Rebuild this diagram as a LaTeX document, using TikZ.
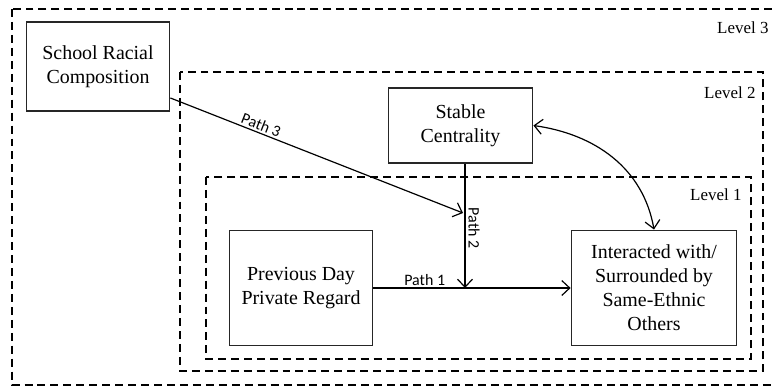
\documentclass[tikz,border=0pt]{standalone}
\usepackage{fontspec}
\setmainfont{Liberation Serif}
\newfontfamily\pathfont{Carlito}
\usetikzlibrary{positioning,arrows.meta}

\tikzset{
  box/.style={draw=black!85, line width=1.4pt, align=center, inner sep=2pt,
    font=\fontsize{20}{24}\selectfont},
  level/.style={draw=black, line width=1.4pt, dash pattern=on 8pt off 5pt},
  levellabel/.style={font=\fontsize{17}{20}\selectfont, anchor=east},
  pathlabel/.style={font=\pathfont\fontsize{16}{19}\selectfont, inner sep=2pt},
  barb/.tip={Straight Barb[length=8pt,width=15pt]},
  link/.style={line width=1.2pt, -barb},
  twoway/.style={line width=1.2pt, barb-barb},
}

\begin{document}
\begin{tikzpicture}[x=1bp, y=-1bp]
  \useasboundingbox (0,0) rectangle (774,388);
  \clip (0,0) rectangle (774,388);

  % levels
  \draw[level] (12,9) rectangle (780,385);
  \draw[level] (180,72) rectangle (763,371);
  \draw[level] (206,177) rectangle (751,359);
  \node[levellabel] (lev3) at (772,28) {Level 3};
  \node[levellabel] (lev2) at (759,93) {Level 2};
  \node[levellabel] (lev1) at (745,195) {Level 1};

  % boxes
  \node[box, minimum width=144, minimum height=89] (school) at (98,66.5)
    {School Racial\\Composition};
  \node[box, minimum width=145, minimum height=75] (stable) at (460.5,125.5)
    {Stable\\Centrality};
  \node[box, minimum width=144, minimum height=116] (prev) at (301,288)
    {Previous Day\\Private Regard};
  \node[box, minimum width=166, minimum height=116] (inter) at (654,288)
    {Interacted with/\\Surrounded by\\Same-Ethnic\\Others};

  \coordinate (p2end) at (465,288);
  \coordinate (p3end) at (463,213);

  % paths
  \draw[link] (prev.east) -- node[pathlabel, pos=0.26, above] {Path 1} (inter.west);
  \draw[link] (stable.south -| p2end) -- node[pathlabel, pos=0.52, rotate=-90, anchor=south, yshift=1] {Path 2} (p2end);
  \draw[link] (school.east |- 0,98) -- node[pathlabel, pos=0.3, above, sloped] {Path 3} (p3end);
  \draw[twoway] (stable.east) to[out=-8, in=100] (inter.north);
\end{tikzpicture}
\end{document}
